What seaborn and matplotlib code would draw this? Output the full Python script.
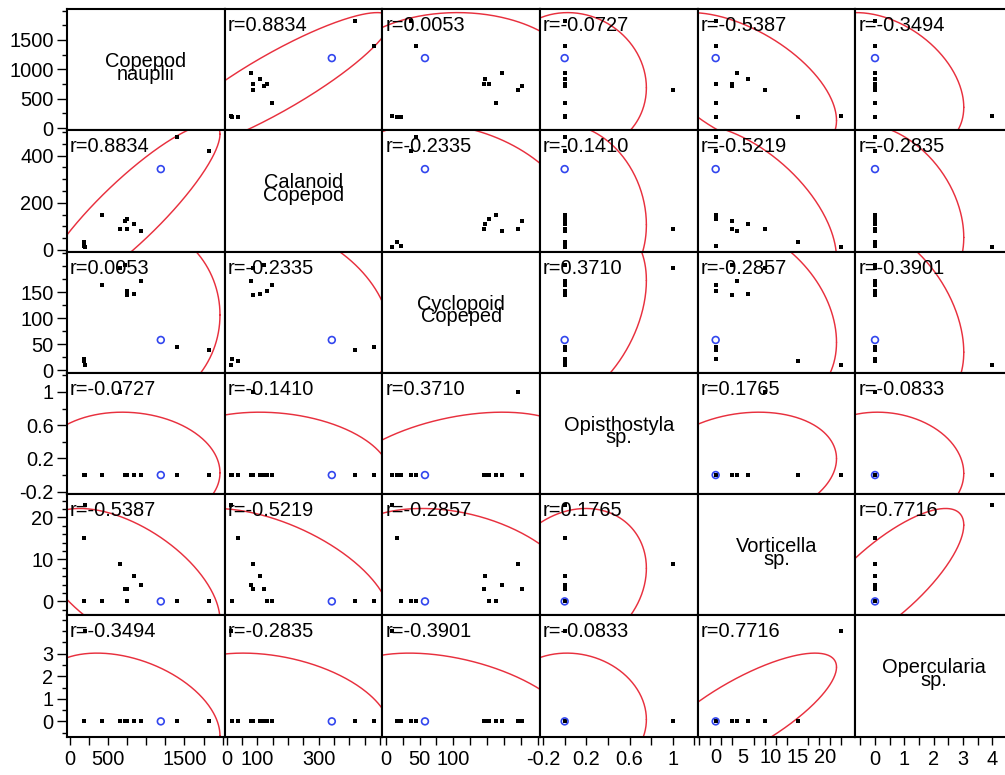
import numpy as np
import pandas as pd
import matplotlib
matplotlib.use("Agg")
import matplotlib.pyplot as plt
import seaborn as sns
from matplotlib.ticker import FixedLocator, FixedFormatter, NullFormatter

# ---- data: plankton counts per sample ----
variables = ["Copepod nauplii", "Calanoid Copepod", "Cyclopoid Copeped",
             "Opisthostyla sp.", "Vorticella sp.", "Opercularia sp."]
diag_lines = [("Copepod", "nauplii"), ("Calanoid", "Copepod"),
              ("Cyclopoid", "Copeped"), ("Opisthostyla", "sp."),
              ("Vorticella", "sp."), ("Opercularia", "sp.")]

copepod_nauplii = [1819, 1402, 1191, 934, 836, 745, 652, 721, 745, 419, 205, 185, 185]
calanoid_copepod = [419, 480, 343, 80, 108, 87, 87, 121, 132, 149, 13, 35, 18]
cyclopoid_copeped = [38, 45, 58, 172, 147, 145, 196, 202, 153, 163, 9, 17, 22]
opisthostyla = [0, 0, 0, 0, 0, 0, 1, 0, 0, 0, 0, 0, 0]
vorticella = [0, 0, 0, 4, 6, 3, 9, 3, 0, 0, 23, 15, 0]
opercularia = [0, 0, 0, 0, 0, 0, 0, 0, 0, 0, 4, 0, 0]
highlighted = [False, False, True, False, False, False, False,
               False, False, False, False, False, False]

# pairwise correlations (upper triangle, row by row)
r_upper = [
    [0.8834, 0.0053, -0.0727, -0.5387, -0.3494],
    [-0.2335, -0.1410, -0.5219, -0.2835],
    [0.3710, -0.2857, -0.3901],
    [0.1765, -0.0833],
    [0.7716],
]

df = pd.DataFrame({
    variables[0]: copepod_nauplii,
    variables[1]: calanoid_copepod,
    variables[2]: cyclopoid_copeped,
    variables[3]: opisthostyla,
    variables[4]: vorticella,
    variables[5]: opercularia,
})
hl = np.array(highlighted)

n = len(variables)
rmat = np.eye(n)
for i in range(n):
    for k, v in enumerate(r_upper[i] if i < len(r_upper) else []):
        j = i + 1 + k
        rmat[i, j] = rmat[j, i] = v

# ---- axis scales ----
limits = [(-37, 2027), (-7, 508), (-5, 228), (-0.228, 1.23), (-3.3, 25.6), (-0.67, 4.7)]

# bottom axis: tick positions and which of them carry a label
x_ticks = [
    (np.arange(0, 2001, 250), {0: "0", 500: "500", 1500: "1500"}),
    (np.arange(0, 501, 50), {0: "0", 100: "100", 300: "300"}),
    (np.arange(0, 226, 25), {0: "0", 50: "50", 100: "100"}),
    (np.round(np.arange(-0.2, 1.21, 0.2), 1), {-0.2: "-0.2", 0.2: "0.2", 0.6: "0.6", 1.0: "1"}),
    (np.arange(-3, 24, 2), {}),
    (np.arange(-0.5, 4.6, 0.5), {0: "0", 1: "1", 2: "2", 3: "3", 4: "4"}),
]
vort_x_labels = [0, 5, 10, 15, 20]

y_major = [
    ([0, 500, 1000, 1500], ["0", "500", "1000", "1500"]),
    ([0, 200, 400], ["0", "200", "400"]),
    ([0, 50, 100, 150], ["0", "50", "100", "150"]),
    ([-0.2, 0.2, 0.6, 1.0], ["-0.2", "0.2", "0.6", "1"]),
    ([0, 10, 20], ["0", "10", "20"]),
    ([0, 1, 2, 3], ["0", "1", "2", "3"]),
]
y_minor = [
    np.arange(0, 2001, 250),
    np.arange(0, 501, 50),
    np.arange(0, 226, 25),
    np.round(np.arange(-0.2, 1.21, 0.2), 1),
    np.arange(-2, 25, 2),
    np.arange(-0.5, 4.6, 0.5),
]

ELLIPSE_COLOR = "#e8303e"
BLUE = "#3246ee"
FONT = 14.4

sns.set_theme(style="white")
plt.rcParams["font.family"] = ["Liberation Sans", "DejaVu Sans"]
plt.rcParams["text.color"] = "black"
plt.rcParams["axes.labelcolor"] = "black"
plt.rcParams["xtick.color"] = "black"
plt.rcParams["ytick.color"] = "black"
plt.rcParams["axes.linewidth"] = 1.5
plt.rcParams["axes.edgecolor"] = "black"

g = sns.PairGrid(df, vars=variables, height=1.3, aspect=1.3, despine=False)
fig = g.figure
W, H = 1005, 775
fig.set_size_inches(W / 100, H / 100)
fig.set_dpi(100)

chi_scale = np.sqrt(5.991)  # 95% density ellipse
t = np.linspace(0, 2 * np.pi, 400)

for i, yv in enumerate(variables):
    for j, xv in enumerate(variables):
        ax = g.axes[i, j]
        if i == j:
            top, bottom = diag_lines[i]
            ax.annotate(top, xy=(0.5, 0.5), xycoords="axes fraction",
                        xytext=(0, 2.5), textcoords="offset pixels",
                        ha="center", va="baseline", fontsize=FONT, color="black")
            ax.annotate(bottom, xy=(0.5, 0.5), xycoords="axes fraction",
                        xytext=(0, -10), textcoords="offset pixels",
                        ha="center", va="baseline", fontsize=FONT, color="black")
            continue
        xs, ys = df[xv], df[yv]
        sns.scatterplot(x=xs[~hl], y=ys[~hl], ax=ax, marker="s", s=5,
                        color="black", linewidth=0, zorder=3)
        sns.scatterplot(x=xs[hl], y=ys[hl], ax=ax, marker="o", s=24,
                        facecolors="none", edgecolor=BLUE, linewidth=1.2, zorder=4)
        # density ellipse from means, sds and the stated correlation
        r = rmat[i, j]
        mx, my = xs.mean(), ys.mean()
        sx, sy = xs.std(ddof=1), ys.std(ddof=1)
        ex = mx + chi_scale * sx * np.cos(t)
        ey = my + chi_scale * sy * (r * np.cos(t) + np.sqrt(1 - r * r) * np.sin(t))
        ax.plot(ex, ey, color=ELLIPSE_COLOR, lw=1.05, zorder=2)
        ax.annotate(f"r={r:.4f}", xy=(0, 1), xycoords="axes fraction",
                    xytext=(3, -22), textcoords="offset pixels",
                    ha="left", va="baseline", fontsize=FONT, color="black", zorder=5)

for i in range(n):
    for j in range(n):
        ax = g.axes[i, j]
        ax.set_xlabel("")
        ax.set_ylabel("")
        ax.set_xlim(*limits[j])
        ax.set_ylim(*limits[i])
        for sp in ax.spines.values():
            sp.set_linewidth(1.5)
            sp.set_color("black")

# x axes (bottom row)
for j in range(n):
    ax = g.axes[-1, j]
    ticks, labels = x_ticks[j]
    if j == 4:
        ax.xaxis.set_major_locator(FixedLocator(vort_x_labels))
        ax.xaxis.set_major_formatter(FixedFormatter([str(v) for v in vort_x_labels]))
        ax.xaxis.set_minor_locator(FixedLocator(ticks))
    else:
        ax.xaxis.set_major_locator(FixedLocator(ticks))
        ax.xaxis.set_major_formatter(FixedFormatter(
            [labels.get(float(v) if j == 3 else v, "") for v in ticks]))
        ax.xaxis.set_minor_locator(FixedLocator([]))

# y axes (left column)
for i in range(n):
    ax = g.axes[i, 0]
    maj, lab = y_major[i]
    ax.yaxis.set_major_locator(FixedLocator(maj))
    ax.yaxis.set_major_formatter(FixedFormatter(lab))
    ax.yaxis.set_minor_locator(FixedLocator([v for v in y_minor[i] if not np.any(np.isclose(v, maj))]))
    ax.yaxis.set_minor_formatter(NullFormatter())

for i in range(n):
    for j in range(n):
        ax = g.axes[i, j]
        ax.tick_params(axis="both", which="both", direction="out", colors="black",
                       labelcolor="black", labelsize=FONT, width=1.0)
        ax.tick_params(axis="x", which="both", length=5.8, pad=4)
        if j == 4:
            # labelled values on this scale sit between the tick marks
            ax.tick_params(axis="x", which="major", length=0, pad=8.2)
        ax.tick_params(axis="y", which="major", length=7.2, pad=2.5)
        ax.tick_params(axis="y", which="minor", length=3.6)
        ax.tick_params(axis="y", which="both", left=(j == 0), labelleft=(j == 0), right=False)
        ax.tick_params(axis="x", which="both", bottom=(i == n - 1), labelbottom=(i == n - 1), top=False)
        ax.grid(False)

fig.subplots_adjust(left=67 / W, right=1013 / W, top=1 - 9 / H, bottom=1 - 736.5 / H,
                    wspace=0, hspace=0)
fig.savefig("out.png", dpi=100, facecolor="white")
